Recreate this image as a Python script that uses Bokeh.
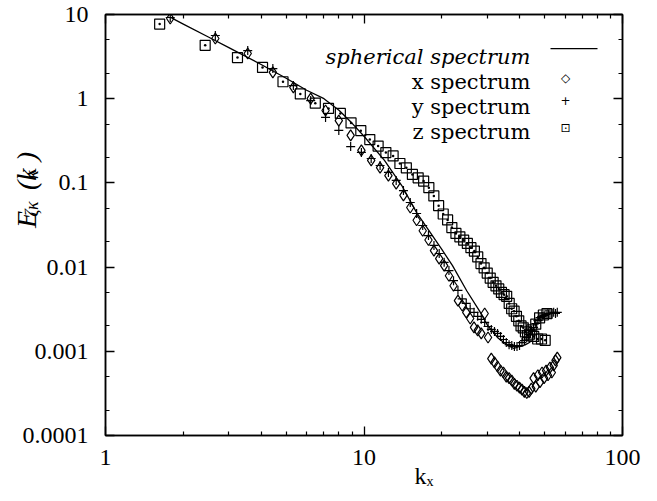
from bokeh.plotting import figure
from bokeh.models import (LogAxis, LinearAxis, FixedTicker, Label, BoxAnnotation, Range1d,
                          CustomJSTickFormatter)
from bokeh.embed import file_html
from bokeh.resources import INLINE

# ---------------- data ----------------
k_xy = [1.78, 2.66, 3.55, 4.44, 5.33, 6.22, 7.10, 7.99, 8.88, 9.77,
        10.66, 11.54, 12.43, 13.32, 14.21, 15.10, 15.98, 16.87, 17.76, 18.65,
        19.54, 20.42, 21.31, 22.20, 23.09, 23.98, 24.86, 25.75, 26.64, 27.53,
        28.42, 29.30, 30.19, 31.08, 31.97, 32.86, 33.74, 34.63, 35.52, 36.41,
        37.30, 38.18, 39.07, 39.96, 40.85, 41.74, 42.62, 43.51, 44.40, 45.29,
        46.18, 47.06, 47.95, 48.84, 49.73, 50.62, 51.50, 52.39, 53.28, 54.17,
        55.06, 55.94]

x_spectrum = [8.96, 5.19, 3.44, 2.05, 1.36, 1.00, 0.724, 0.55, 0.366, 0.243,
              0.185, 0.152, 0.122, 0.098, 0.071, 0.051, 0.036, 0.027, 0.021, 0.0157,
              0.0126, 0.0104, 0.0079, 0.0060, 0.0040, 0.0035, 0.0029, 0.00245, 0.00192, 0.00177,
              0.00163, 0.00281, 0.00146, 0.00082, 0.00074, 0.00066, 0.00059, 0.00056, 0.00050, 0.00048,
              0.00045, 0.00041, 0.00039, 0.00037, 0.00035, 0.00033, 0.00032, 0.00033, 0.00036, 0.00048,
              0.00038, 0.00052, 0.00043, 0.00056, 0.00048, 0.00059, 0.00052, 0.00064, 0.00056, 0.00068,
              0.00078, 0.00084]

y_spectrum = [9.21, 5.63, 3.73, 2.28, 1.43, 0.95, 0.60, 0.42, 0.27, 0.23,
              0.195, 0.161, 0.133, 0.107, 0.081, 0.0585, 0.0433, 0.0312, 0.0237, 0.0181,
              0.0145, 0.0114, 0.0091, 0.0069, 0.0053, 0.0042, 0.0037, 0.0032, 0.0029, 0.0026,
              0.0024, 0.0022, 0.00197, 0.00182, 0.00172, 0.00163, 0.0015, 0.00138, 0.00127, 0.00120,
              0.00117, 0.00114, 0.00114, 0.00117, 0.00127, 0.00134, 0.00146, 0.00158, 0.00177, 0.00192,
              0.00214, 0.00232, 0.00252, 0.0026, 0.00266, 0.00274, 0.00281, 0.00281, 0.00281, 0.0029,
              0.00281, 0.0029]

k_z = [1.62, 2.43, 3.24, 4.05, 4.86, 5.67, 6.48, 7.29, 8.10, 8.91,
       9.72, 10.53, 11.34, 12.15, 12.96, 13.77, 14.58, 15.39, 16.20, 17.01,
       17.82, 18.63, 19.44, 20.25, 21.06, 21.87, 22.68, 23.49, 24.30, 25.11,
       25.92, 26.73, 27.54, 28.35, 29.16, 29.97, 30.78, 31.59, 32.40, 33.21,
       34.02, 34.83, 35.64, 36.45, 37.26, 38.07, 38.88, 39.69, 40.50, 41.31,
       42.12, 42.93, 43.74, 44.55, 45.36, 46.17, 46.98, 47.79, 48.60, 49.41,
       50.22, 51.03]

z_spectrum = [7.7, 4.3, 3.08, 2.35, 1.59, 1.14, 0.885, 0.766, 0.668, 0.516,
              0.417, 0.327, 0.274, 0.229, 0.209, 0.170, 0.151, 0.126, 0.115, 0.105,
              0.0877, 0.070, 0.0537, 0.0427, 0.0363, 0.0295, 0.0251, 0.0229, 0.0209, 0.0191,
              0.0170, 0.0155, 0.0132, 0.011, 0.0098, 0.0085, 0.0074, 0.0066, 0.0060, 0.0055,
              0.0050, 0.0047, 0.0045, 0.0037, 0.0032, 0.0030, 0.0026, 0.0023, 0.0020, 0.0019,
              0.0017, 0.00155, 0.0016, 0.0018, 0.0015, 0.0021, 0.0014, 0.0025, 0.0014, 0.0027,
              0.00135, 0.0028]

k_sph = [1.8, 2, 2.5, 3, 4, 5, 6, 7, 8, 9, 10, 12, 14, 16, 18, 20, 22, 25, 28, 30,
         33, 36, 38, 40, 42, 44]
spherical = [9.1, 7.7, 5.4, 4.05, 2.55, 1.75, 1.26, 1.0, 0.73, 0.51, 0.358, 0.185,
             0.093, 0.044, 0.026, 0.0162, 0.0104, 0.0052, 0.0030, 0.00205,
             0.00144, 0.00117, 0.00108, 0.00114, 0.00119, 0.00129]

x_ticks = [1, 10, 100]
x_minor = [2, 3, 4, 5, 6, 7, 8, 9, 20, 30, 40, 50, 60, 70, 80, 90]
y_ticks = [0.0001, 0.001, 0.01, 0.1, 1, 10]
y_minor = [0.0002, 0.0005, 0.002, 0.005, 0.02, 0.05, 0.2, 0.5, 2, 5]

legend_labels = ["spherical spectrum", "x spectrum", "y spectrum", "z spectrum"]
NB = "\u00A0"
SERIF = "Liberation Serif, DejaVu Serif"

# ---------------- figure ----------------
p = figure(width=657, height=501, x_axis_type="log", y_axis_type="log",
           x_range=Range1d(1, 100), y_range=Range1d(0.0001, 10),
           output_backend="svg", toolbar_location=None,
           min_border_left=105, min_border_right=35,
           min_border_top=14, min_border_bottom=66)
p.grid.visible = False
p.outline_line_color = "black"
p.outline_line_width = 1.5

xa = p.below[0]
ya = p.left[0]

def style_axis(ax, ticks, minor, labels, standoff):
    ax.ticker = FixedTicker(ticks=ticks, minor_ticks=minor)
    ax.axis_line_color = "black"
    ax.axis_line_width = 1.5
    ax.major_tick_in = 9
    ax.major_tick_out = 0
    ax.minor_tick_in = 4
    ax.minor_tick_out = 0
    ax.major_tick_line_color = "black"
    ax.minor_tick_line_color = "black"
    ax.major_tick_line_width = 1.3
    ax.minor_tick_line_width = 1.2
    ax.major_label_text_font = SERIF
    ax.major_label_text_font_size = "24px"
    ax.major_label_text_color = "black"
    ax.major_label_standoff = standoff
    if labels:
        ax.formatter = CustomJSTickFormatter(code="return tick.toString();")
    else:
        ax.formatter = CustomJSTickFormatter(code="return '';")
        ax.major_label_text_color = None

style_axis(xa, x_ticks, x_minor, True, 14)
style_axis(ya, y_ticks, y_minor, True, 17)

top = LogAxis()
style_axis(top, x_ticks, x_minor, False, 0)
p.add_layout(top, "above")
right = LogAxis()
style_axis(right, y_ticks, y_minor, False, 0)
p.add_layout(right, "right")

# ---- axis titles (real axis labels, padded to position them) ----
xa.axis_label = NB * 20 + "k\u2093"
xa.axis_label_text_font = "Liberation Serif"
xa.axis_label_text_font_style = "normal"
xa.axis_label_text_font_size = "24px"
xa.axis_label_text_color = "black"
xa.axis_label_standoff = -5

ya.axis_label = NB * 10 + "E" + NB * 3 + "(k" + NB + ")"
ya.axis_label_text_font = "Liberation Serif"
ya.axis_label_text_font_style = "italic"
ya.axis_label_text_font_size = "28px"
ya.axis_label_text_color = "black"
ya.axis_label_standoff = -22

sub = LinearAxis(ticker=FixedTicker(ticks=[]))
sub.axis_line_color = None
sub.major_tick_line_color = None
sub.minor_tick_line_color = None
sub.major_label_standoff = 0
sub.axis_label = NB * 14 + "\u03B6\u03BA" + NB * 5 + "\u03BA"
sub.axis_label_text_font = "Liberation Serif"
sub.axis_label_text_font_style = "italic"
sub.axis_label_text_font_size = "18px"
sub.axis_label_text_color = "black"
sub.axis_label_standoff = -34
p.add_layout(sub, "left")

# ---------------- data glyphs ----------------
p.line(k_sph, spherical, line_color="black", line_width=1.3)
p.scatter(k_xy, x_spectrum, marker="diamond", size=11, fill_color=None,
          line_color="black", line_width=1.2)
p.scatter(k_xy, y_spectrum, marker="cross", size=9, line_color="black",
          line_width=1.2)
p.scatter(k_z, z_spectrum, marker="square_dot", size=10, fill_color=None,
          line_color="black", line_width=1.2)

# ---------------- legend (text left, sample right) ----------------
FX, FY = 105, 435  # frame origin in page pixels (screen-unit annotations)

def lab(text, px, py, size, style="normal", align="left", baseline="alphabetic",
        font="DejaVu Serif"):
    p.add_layout(Label(x=px - FX, y=FY - py, x_units="screen", y_units="screen",
                       text=text, text_font=font, text_font_size=size,
                       text_font_style=style, text_align=align,
                       text_baseline=baseline, text_color="black"))

baselines = [56, 81, 106, 131]
for i, t in enumerate(legend_labels):
    lab(t, 530, baselines[i], "21px", "italic" if i == 0 else "normal", "right")

p.add_layout(BoxAnnotation(left=550 - FX, right=597 - FX, bottom=FY - 48.7, top=FY - 47.5,
                           left_units="screen", right_units="screen",
                           bottom_units="screen", top_units="screen",
                           fill_color="black", fill_alpha=1, line_color=None))
lab("\u25C7", 565, 77, "12px", align="center", baseline="middle", font="DejaVu Sans")
lab("+", 565, 100, "12px", align="center", baseline="middle", font="DejaVu Sans")
lab("\u22A1", 565, 127, "12px", align="center", baseline="middle", font="DejaVu Sans")

open("out.html", "w").write(file_html(p, INLINE))
